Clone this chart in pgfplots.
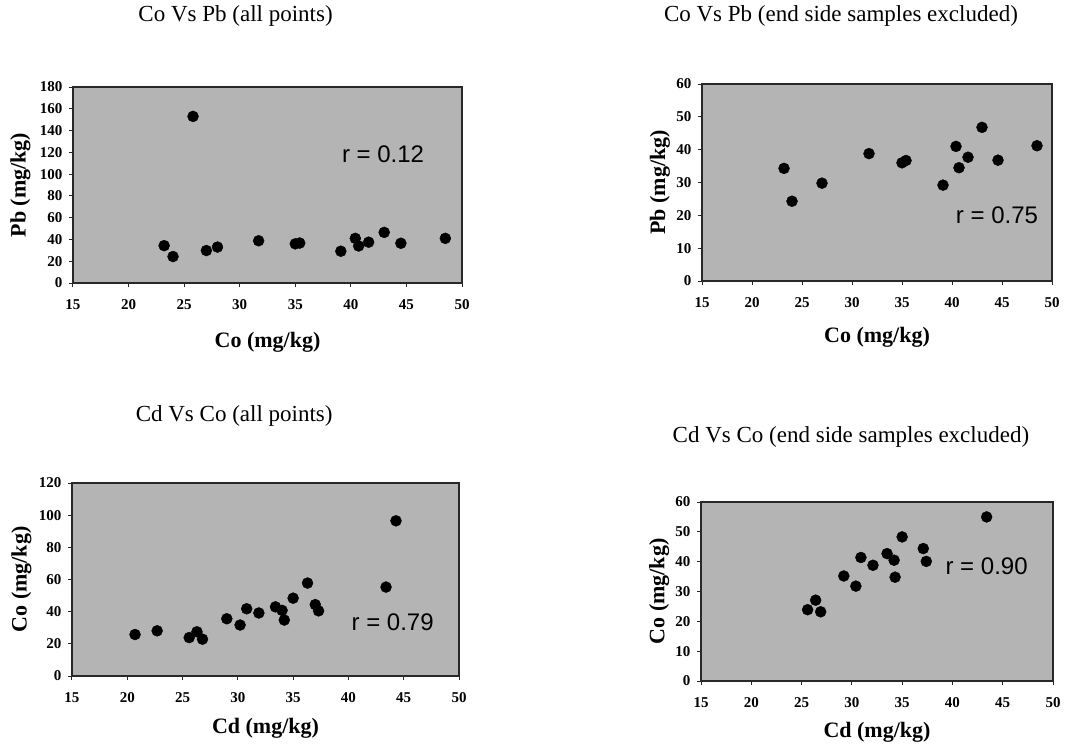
\documentclass[border=0pt]{standalone}
\usepackage{pgfplots}
\pgfplotsset{compat=1.18}
\usepackage{fontspec}
\setmainfont{Liberation Serif}
\newfontfamily\arial{Liberation Sans}
\definecolor{bg}{RGB}{180,180,180}
\definecolor{frame}{RGB}{40,40,40}
\tikzset{rtext/.style={font=\arial\fontsize{24}{27}\selectfont, anchor=center}}
\pgfplotsset{
  panel/.style={
    scale only axis, anchor=north west,
    axis background/.style={fill=bg},
    axis line style={frame, line width=1.6pt},
    tick style={frame, line width=1pt},
    tick align=outside, major tick length=4pt,
    xtick pos=bottom, ytick pos=left,
    xmin=15, xmax=50, xtick={15,20,...,50},
    ymin=0,
    /pgf/number format/assume math mode=true,
    ticklabel style={font=\bfseries\fontsize{15}{16}\selectfont},
    xticklabel style={yshift=-9pt},
    yticklabel style={xshift=-3pt},
    label style={font=\bfseries\fontsize{22}{25}\selectfont},
    title style={font=\fontsize{23}{26}\selectfont, anchor=center},
    xlabel style={anchor=center},
    ylabel style={anchor=center},
    clip=false,
  },
  dots/.style={only marks, mark=*, mark size=5.5pt, black, mark options={fill=black, draw=black}},
}
\begin{document}
\begin{tikzpicture}
\useasboundingbox (0pt,0pt) rectangle (1071pt,-745pt);
% Panel 1
\begin{axis}[panel, at={(73pt,-87pt)}, width=389pt, height=196pt,
  ymax=180, ytick={0,20,...,180},
  title={Co Vs Pb (all points)}, title style={at={(axis description cs:0.418,1.332)}},
  xlabel={Co (mg/kg)}, xlabel style={at={(axis description cs:0.5,-0.301)}},
  ylabel={Pb (mg/kg)}, ylabel style={at={(axis description cs:-0.135,0.5)}}]
\addplot[dots] coordinates {(23.2,34.3) (24.0,24.3) (25.8,153) (27.0,29.8) (28.0,33) (31.7,38.8) (35.0,36) (35.4,36.7) (39.1,29.2) (40.4,41) (40.7,34) (41.6,37.5) (43.0,46.5) (44.5,36.5) (48.5,41)};
\node[rtext] at (axis cs:42.9,118.5) {r = 0.12};
\end{axis}
% Panel 2
\begin{axis}[panel, at={(702pt,-84pt)}, width=350pt, height=197pt,
  ymax=60, ytick={0,10,...,60},
  title={Co Vs Pb (end side samples excluded)}, title style={at={(axis description cs:0.397,1.315)}},
  xlabel={Co (mg/kg)}, xlabel style={at={(axis description cs:0.5,-0.284)}},
  ylabel={Pb (mg/kg)}, ylabel style={at={(axis description cs:-0.12,0.5)}}]
\addplot[dots] coordinates {(23.2,34.3) (24.0,24.3) (27.0,29.8) (31.7,38.8) (35.0,36) (35.4,36.7) (39.1,29.2) (40.4,41) (40.7,34.5) (41.6,37.7) (43.0,46.8) (44.6,36.8) (48.5,41.2)};
\node[rtext] at (axis cs:44.5,20.1) {r = 0.75};
\end{axis}
% Panel 3
\begin{axis}[panel, at={(72pt,-483pt)}, width=387pt, height=193pt,
  ymax=120, ytick={0,20,...,120},
  title={Cd Vs Co (all points)}, title style={at={(axis description cs:0.419,1.316)}},
  xlabel={Cd (mg/kg)}, xlabel style={at={(axis description cs:0.5,-0.269)}},
  ylabel={Co (mg/kg)}, ylabel style={at={(axis description cs:-0.131,0.5)}}]
\addplot[dots] coordinates {(20.7,25.8) (22.7,28.1) (25.6,23.9) (26.3,27.5) (26.8,22.9) (29.0,35.6) (30.2,31.7) (30.8,41.8) (31.9,39.2) (33.4,43) (34.0,40.8) (34.2,34.8) (35.0,48.4) (36.3,57.8) (37.0,44.4) (37.3,40.5) (43.4,55.3) (44.3,96.5)};
\node[rtext] at (axis cs:44.0,33.6) {r = 0.79};
\end{axis}
% Panel 4
\begin{axis}[panel, at={(701pt,-502pt)}, width=352pt, height=179pt,
  ymax=60, ytick={0,10,...,60},
  title={Cd Vs Co (end side samples excluded)}, title style={at={(axis description cs:0.426,1.33)}},
  xlabel={Cd (mg/kg)}, xlabel style={at={(axis description cs:0.5,-0.285)}},
  ylabel={Co (mg/kg)}, ylabel style={at={(axis description cs:-0.119,0.5)}}]
\addplot[dots] coordinates {(25.6,23.9) (26.4,27.1) (26.9,23.2) (29.2,35.2) (30.4,31.8) (30.9,41.4) (32.1,38.8) (33.5,42.7) (34.2,40.5) (34.3,34.8) (35.0,48.3) (37.1,44.4) (37.4,40.1) (43.4,55)};
\node[rtext] at (axis cs:43.4,38.5) {r = 0.90};
\end{axis}
\end{tikzpicture}
\end{document}
